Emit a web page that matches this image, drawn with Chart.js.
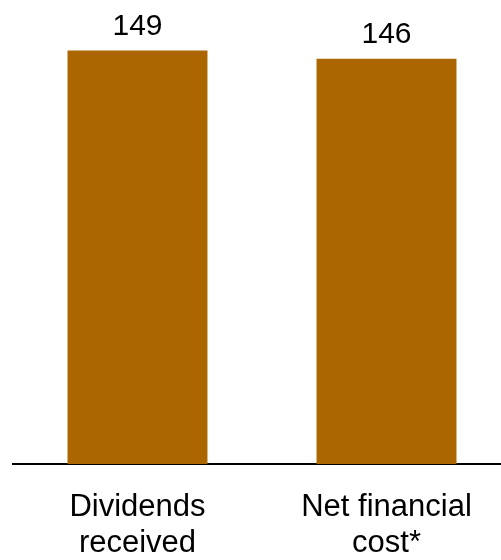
<!DOCTYPE html>
<html>
<head>
<meta charset="utf-8">
<script src="https://cdn.jsdelivr.net/npm/chart.js@4/dist/chart.umd.min.js"></script>
<style>
    html, body { margin: 0; padding: 0; background: #fff; overflow: hidden; }
    #wrap { position: relative; width: 511px; height: 560px; }
</style>
</head>
<body>
<div id="wrap"><canvas id="chart"></canvas></div>
<script>
// Two-bar comparison, values in EUR m
const categories = [['Dividends', 'received'], ['Net financial', 'cost*']];
const values = [149, 146];

const BAR_COLOR = '#AB6600';
const FAMILY = '"Liberation Sans", Arial, sans-serif';
const TICK_FONT = { family: FAMILY, size: 31, lineHeight: 36 / 31 };
const VALUE_FONT = `30px ${FAMILY}`;

// value printed above each bar
const valueLabels = {
    id: 'valueLabels',
    afterDatasetsDraw(chart) {
        const { ctx } = chart;
        const meta = chart.getDatasetMeta(0);
        ctx.save();
        ctx.fillStyle = '#000';
        ctx.font = VALUE_FONT;
        ctx.textAlign = 'center';
        ctx.textBaseline = 'alphabetic';
        meta.data.forEach((bar, i) => {
            ctx.fillText(String(values[i]), bar.x, bar.y - 16);
        });
        ctx.restore();
    },
};

new Chart(document.getElementById('chart'), {
    type: 'bar',
    data: {
        labels: categories,
        datasets: [{
            data: values,
            backgroundColor: BAR_COLOR,
            borderWidth: 0,
            categoryPercentage: 1,
            barPercentage: 0.562,
        }],
    },
    options: {
        responsive: true,
        maintainAspectRatio: false,
        animation: false,
        layout: { padding: { left: 13, right: 0, top: 20, bottom: 0 } },
        plugins: {
            legend: { display: false },
            tooltip: { enabled: false },
        },
        scales: {
            x: {
                grid: { display: false, drawTicks: false },
                border: { display: true, color: '#000', width: 2 },
                ticks: {
                    color: '#000',
                    font: TICK_FONT,
                    padding: 25,
                    maxRotation: 0,
                    autoSkip: false,
                },
                // fixed band under the baseline for the two-line labels
                afterFit(scale) {
                    scale.height = 96;
                },
            },
            y: {
                display: false,
                min: 0,
                max: 160,
            },
        },
    },
    plugins: [valueLabels],
});
</script>
</body>
</html>
